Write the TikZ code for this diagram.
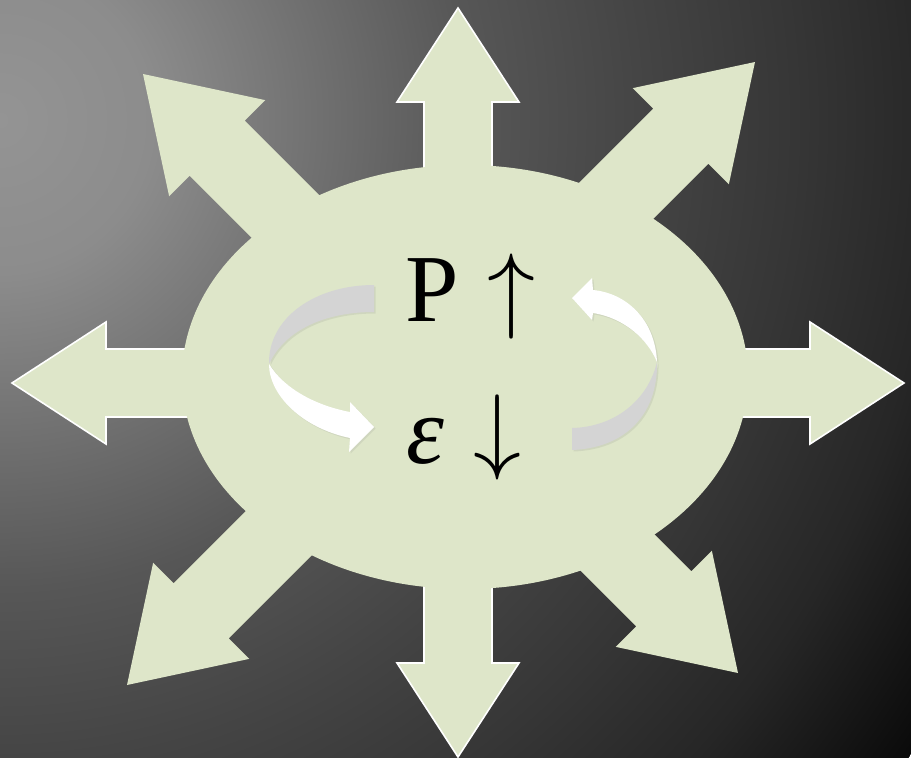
\documentclass[tikz,border=0pt]{standalone}
\usepackage{fontspec}
\setmainfont{Liberation Serif}
\usepackage{tikz}
\usetikzlibrary{shadows}

\definecolor{sage}{RGB}{222,230,201}
\definecolor{ribbongray}{RGB}{212,212,212}
\definecolor{glowA}{gray}{0.58}
\definecolor{glowB}{gray}{0.55}
\definecolor{glowC}{gray}{0.34}
\definecolor{glowD}{gray}{0.27}
\definecolor{glowE}{gray}{0.21}
\definecolor{glowF}{gray}{0.15}
\definecolor{glowG}{gray}{0.04}
\pgfdeclareradialshading{bgglow}{\pgfpoint{0bp}{0bp}}{color(0bp)=(glowA); color(3.4bp)=(glowB); color(10.6bp)=(glowC); color(14.4bp)=(glowD); color(18bp)=(glowE); color(21.2bp)=(glowF); color(25bp)=(glowG); color(50bp)=(glowG)}

\begin{document}
\begin{tikzpicture}[x=1pt,y=-1pt]
    \tikzset{
        burst/.style={fill=sage},
        burstrim/.style={fill=sage,draw=white,line width=1.6pt},
        ribbonback/.style={fill=ribbongray,drop shadow={opacity=0.15,shadow xshift=1.5pt,shadow yshift=-1.5pt}},
        ribbonfront/.style={fill=white,drop shadow={opacity=0.15,shadow xshift=1.5pt,shadow yshift=-1.5pt}},
        symb/.style={inner sep=0pt,font=\fontsize{20.74}{24}\selectfont,scale=4.63}
    }
    % Background
    \useasboundingbox (0,0) rectangle (911,758);
    \begin{scope}
        \clip (0,0) rectangle (911,758);
        \shade[shading=bgglow] (0,120) circle (1110pt);
    \end{scope}
    % Arrow tips
    \coordinate (tipNW) at (143,74);
    \coordinate (tipNE) at (755,62);
    \coordinate (tipSW) at (127,685);
    \coordinate (tipSE) at (738,673);
    \coordinate (tipN) at (458,8);
    \coordinate (tipS) at (458,757);
    \coordinate (tipW) at (12,383);
    \coordinate (tipE) at (904,383);
    % Diagonal arrows
    \foreach \t/\a in {tipNW/135,tipNE/45,tipSW/225,tipSE/315} {
        \fill[burst,shift={(\t)},rotate=\a] (0,0) -- (-105,-68) -- (-105,-39) -- (-330,-39)
            -- (-330,39) -- (-105,39) -- (-105,68) -- cycle;
    }
    % Straight arrows
    \foreach \t/\a in {tipN/90,tipS/270,tipW/180,tipE/0} {
        \draw[burstrim,shift={(\t)},rotate=\a] (-250,34) -- (-94,34) -- (-94,61) -- (0,0)
            -- (-94,-61) -- (-94,-34) -- (-250,-34);
    }
    % Core
    \fill[burst] (465,377) ellipse [x radius=283pt, y radius=212pt];
    % Left ribbon
    \fill[ribbonback] (374,285) .. controls (315,285) and (268,318) .. (269,364)
        .. controls (285,330) and (325,312) .. (374,312) -- cycle;
    \fill[ribbonfront] (269,364) .. controls (269,395) and (302,428) .. (350,438)
        -- (349,452) -- (374,427) -- (350,402) -- (350,412)
        .. controls (318,406) and (285,390) .. (269,364) -- cycle;
    % Right ribbon
    \fill[ribbonback] (572,428) -- (572,450) .. controls (625,448) and (658,415) .. (657,362)
        .. controls (648,400) and (615,427) .. (572,428) -- cycle;
    \fill[ribbonfront] (657,362) .. controls (655,318) and (625,293) .. (593,290)
        -- (592,278) -- (572,298) -- (592,320) -- (593,313)
        .. controls (625,318) and (648,340) .. (657,362) -- cycle;
    % Labels
    \node[symb,anchor=base] (power) at (432,321) {P};
    \node[symb,anchor=base] (powerup) at (512,320) {$\uparrow$};
    \node[symb,anchor=base] (strain) at (425,463) {\itshape ε};
    \node[symb,anchor=base] (straindown) at (498,461) {$\downarrow$};
\end{tikzpicture}
\end{document}
